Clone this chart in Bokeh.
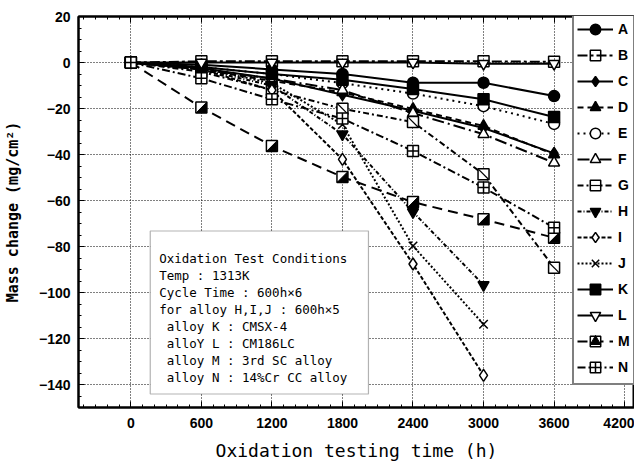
import math
from bokeh.plotting import figure
from bokeh.models import (ColumnDataSource, Legend, LegendItem, FixedTicker,
                          LinearAxis, Range1d, Label, BoxAnnotation)
from bokeh.embed import file_html
from bokeh.resources import INLINE

# ---------------- data ----------------
time = [0, 600, 1200, 1800, 2400, 3000, 3600]
time_hij = [0, 600, 1200, 1800, 2400, 3000]

alloy_A = [0, -1, -3, -5, -8.8, -8.8, -14.6]
alloy_B = [0, 0.5, 0.5, 0.5, 0.5, 0.5, 0.3]
alloy_C = [0, -2.5, -7, -14, -21, -28.5, -39.5]
alloy_D = [0, -3, -8, -13, -20.2, -27.6, -40]
alloy_E = [0, -2, -5, -9, -13.5, -19, -26.7]
alloy_F = [0, -3, -7, -12, -22, -31.2, -43.6]
alloy_G = [0, -4, -12, -20.1, -25.9, -48.6, -89.2]
alloy_H = [0, -3, -10, -31.2, -65, -96.7]
alloy_I = [0, -3, -12, -42.1, -87.6, -136]
alloy_J = [0, -2.5, -9, -27, -79.8, -113.8]
alloy_K = [0, -2, -5, -7.5, -11.5, -16, -23.7]
alloy_L = [0, 0, 0, 0, 0, -0.5, -0.5]
alloy_M = [0, -19.6, -36.3, -49.8, -60.7, -68.2, -76.2]
alloy_N = [0, -6.9, -16, -24.4, -38.5, -54.4, -71.8]

x_ticks = [0, 600, 1200, 1800, 2400, 3000, 3600, 4200]
y_ticks = [-140, -120, -100, -80, -60, -40, -20, 0, 20]

NB = "\u00a0"
box_lines = [
    "Oxidation Test Conditions",
    "Temp : 1313K",
    "Cycle Time : 600h×6",
    "for alloy H,I,J : 600h×5",
    NB + "alloy K : CMSX-4",
    NB + "alloY L : CM186LC",
    NB + "alloy M : 3rd SC alloy",
    NB + "alloy N : 14%Cr CC alloy",
]

# ---------------- figure ----------------
X0, X1 = -445, 4284
Y0, Y1 = -150, 20
W, H = 634, 464
ML, MR, MT, MB = 76, 0, 16, 57

p = figure(width=W, height=H, x_range=Range1d(X0, X1), y_range=Range1d(Y0, Y1),
           output_backend="svg", toolbar_location=None,
           min_border_left=ML, min_border_right=MR, min_border_top=MT, min_border_bottom=MB)
p.outline_line_color = "black"
p.outline_line_width = 2
p.background_fill_color = "white"
p.border_fill_color = "white"

xt = FixedTicker(ticks=x_ticks, minor_ticks=list(range(-400, 4300, 100)))
yt = FixedTicker(ticks=y_ticks, minor_ticks=list(range(-150, 21, 5)))
p.xaxis.ticker = xt
p.yaxis.ticker = yt
p.xgrid.ticker = FixedTicker(ticks=x_ticks)
p.ygrid.ticker = FixedTicker(ticks=y_ticks)
p.grid.grid_line_color = "black"
p.grid.grid_line_dash = "1 2"
p.grid.grid_line_width = 1
p.grid.grid_line_alpha = 1

for ax in (p.xaxis[0], p.yaxis[0]):
    ax.axis_line_color = "black"
    ax.axis_line_width = 2
    ax.major_tick_in = 6
    ax.major_tick_out = 0
    ax.minor_tick_in = 3
    ax.minor_tick_out = 0
    ax.major_tick_line_color = "black"
    ax.minor_tick_line_color = "black"
    ax.major_label_text_font = "Liberation Sans"
    ax.major_label_text_font_style = "bold"
    ax.major_label_text_font_size = "14px"
    ax.major_label_text_color = "black"
    ax.axis_label_text_color = "black"

p.xaxis.major_label_standoff = 10
p.yaxis.major_label_standoff = 8
p.xaxis.axis_label = "Oxidation testing time (h)"
p.xaxis.axis_label_text_font = "DejaVu Sans Mono"
p.xaxis.axis_label_text_font_style = "normal"
p.xaxis.axis_label_text_font_size = "18px"
p.xaxis.axis_label_standoff = 9
p.yaxis.axis_label = "Mass change (mg/cm²)"
p.yaxis.axis_label_text_font = "DejaVu Sans Mono"
p.yaxis.axis_label_text_font_style = "bold"
p.yaxis.axis_label_text_font_size = "15px"
p.yaxis.axis_label_standoff = 14

top = LinearAxis(ticker=xt, major_label_overrides={t: "" for t in x_ticks},
                 major_label_standoff=0,
                 major_tick_in=6, major_tick_out=0, minor_tick_in=3, minor_tick_out=0,
                 axis_line_color="black", axis_line_width=2)
p.add_layout(top, "above")

# ---------------- series ----------------
LW = 2
MS = 11
series = [
    ("A", time, alloy_A, "solid", "circle", "black"),
    ("B", time, alloy_B, "10 3 3 3", "square", None),
    ("C", time, alloy_C, "solid", "diamond", "black"),
    ("D", time, alloy_D, "6 4", "triangle", "black"),
    ("E", time, alloy_E, "2 4", "circle", "white"),
    ("F", time, alloy_F, "12 4 2 4", "triangle", "white"),
    ("G", time, alloy_G, "6 3 2 3", "square", "white"),
    ("H", time_hij, alloy_H, "4 2 1 2", "inverted_triangle", "black"),
    ("I", time_hij, alloy_I, "4 2", "diamond", "white"),
    ("J", time_hij, alloy_J, "2 2", "x", None),
    ("K", time, alloy_K, "solid", "square", "black"),
    ("L", time, alloy_L, "solid", "inverted_triangle", "white"),
    ("M", time, alloy_M, "10 6", "square", "white"),
    ("N", time, alloy_N, "8 3 2 3", "square_cross", "white"),
]

items = []
for name, xs, ys, dash, marker, fill in series:
    src = ColumnDataSource(dict(x=xs, y=ys))
    ln = p.line("x", "y", source=src, line_color="black", line_width=LW, line_dash=dash)
    size = MS + 1 if marker in ("diamond", "x") else MS
    if fill is None:
        sc = p.scatter("x", "y", source=src, marker=marker, size=size, line_color="black",
                       line_width=1.5, fill_alpha=0)
    else:
        sc = p.scatter("x", "y", source=src, marker=marker, size=size, line_color="black",
                       line_width=1.5, fill_color=fill)
    rends = [ln, sc]
    if name == "G":
        dg = p.scatter("x", "y", source=src, marker="dash", size=14, angle=-math.pi / 4,
                       line_color="black", line_width=1.2)
        rends.append(dg)
    if name == "M":
        # lower-right half filled (drawn in data units from the marker's pixel size)
        pxu = (W - ML - MR) / (X1 - X0)
        pyu = (H - MT - MB) / (Y1 - Y0)
        dx = 5.0 / pxu
        dy = 5.0 / pyu
        tx = [[x + dx, x + dx, x - dx] for x in xs]
        ty = [[y + dy, y - dy, y - dy] for y in ys]
        p.patches(tx, ty, fill_color="black", line_color="black", line_width=1)
        nan = float("nan")
        lt = p.scatter(x=[nan], y=[nan], marker="triangle", size=8, angle=-3 * math.pi / 4,
                       fill_color="black", line_color="black")
        rends.append(lt)
    items.append(LegendItem(label=name, renderers=rends))

legend = Legend(items=items, location=(494, 22), orientation="vertical",
                glyph_width=36, glyph_height=26, label_height=20, label_width=12,
                spacing=0, padding=3, margin=0, label_standoff=5,
                label_text_font="Liberation Sans", label_text_font_style="bold",
                label_text_font_size="14px", label_text_color="black",
                border_line_color="black", border_line_width=2,
                background_fill_color="white", background_fill_alpha=1)
p.add_layout(legend)

# ---------------- conditions box ----------------
def ux(px):
    return (px - 128.5) * 600 / 70.8

def uy(py):
    return (61.5 - py) / 2.3

box = BoxAnnotation(left=ux(148), right=ux(367), top=uy(230), bottom=uy(393),
                    fill_color="white", fill_alpha=1, line_color="black", line_width=1.2)
p.add_layout(box)
for k, t in enumerate(box_lines):
    p.add_layout(Label(x=ux(157), y=uy(257.7 + 17 * k), text=t, text_font="DejaVu Sans Mono",
                       text_font_size="12.5px", text_baseline="middle", text_align="left",
                       text_color="black"))

open("out.html", "w").write(file_html(p, INLINE))
